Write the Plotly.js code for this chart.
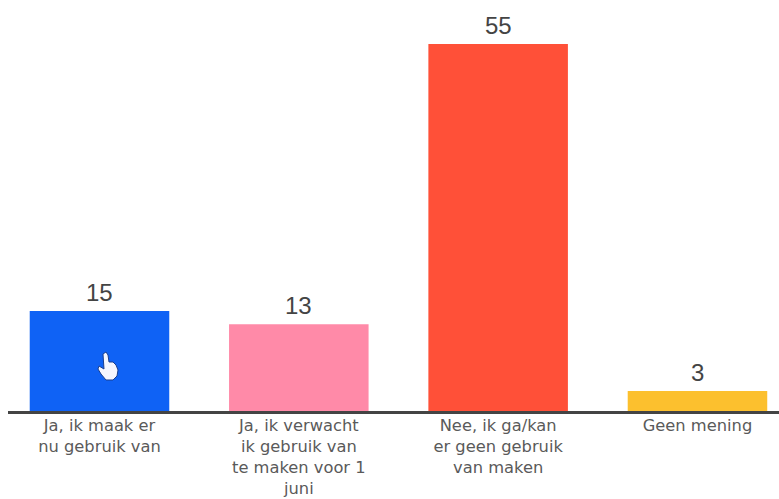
<!DOCTYPE html>
<html><head><meta charset="utf-8"><script src="https://cdn.plot.ly/plotly-3.0.0.min.js"></script>
<style>html,body{margin:0;padding:0;background:#fff}</style></head><body><div id="c" style="width:779px;height:499px"></div>
<script>
const categories=["Ja, ik maak er<br>nu gebruik van","Ja, ik verwacht<br>ik gebruik van<br>te maken voor 1<br>juni","Nee, ik ga/kan<br>er geen gebruik<br>van maken","Geen mening"];
const values=[15,13,55,3];
const colors=["#0f62f5","#ff8aa8","#ff5038","#fcc02e"];
const W=779,H=499,L=8,T=44,B=88;
const px=(x,y)=>((x-L)/(W-L)).toFixed(4)+","+((H-B-y)/(H-B-T)).toFixed(4);
const hand=[[103,354],[106,352],[108,355],[109,362],[113,362],[116,365],[118,370],[117,376],[113,380],[106,380],[101,374],[98,369],[99,366],[104,369]];
const handPath="M"+hand.map(p=>px(p[0],p[1])).join("L")+"Z";
Plotly.newPlot("c",[{type:"bar",x:categories,y:values,marker:{color:colors},width:0.7,hoverinfo:"x+y"}],{
width:W,height:H,margin:{l:L,r:0,t:T,b:B},showlegend:false,paper_bgcolor:"#fff",plot_bgcolor:"#fff",
xaxis:{range:[-0.459,3.409],showline:true,linecolor:"#444",linewidth:3,ticks:"",ticklabelstandoff:-3,tickfont:{family:"DejaVu Sans, sans-serif",size:16.3,color:"#5a5a5a"},automargin:false},
yaxis:{range:[0,55],visible:false,showgrid:false,zeroline:false},
annotations:categories.map((c,i)=>({x:c,y:values[i],text:String(values[i]),showarrow:false,yanchor:"bottom",yshift:3,font:{family:"Liberation Sans, sans-serif",size:24,color:"#444"}})),
shapes:[{type:"path",xref:"paper",yref:"paper",path:handPath,fillcolor:"#f4f6ff",line:{color:"#1a3f8f",width:1}}]
},{displayModeBar:false});
</script></body></html>
